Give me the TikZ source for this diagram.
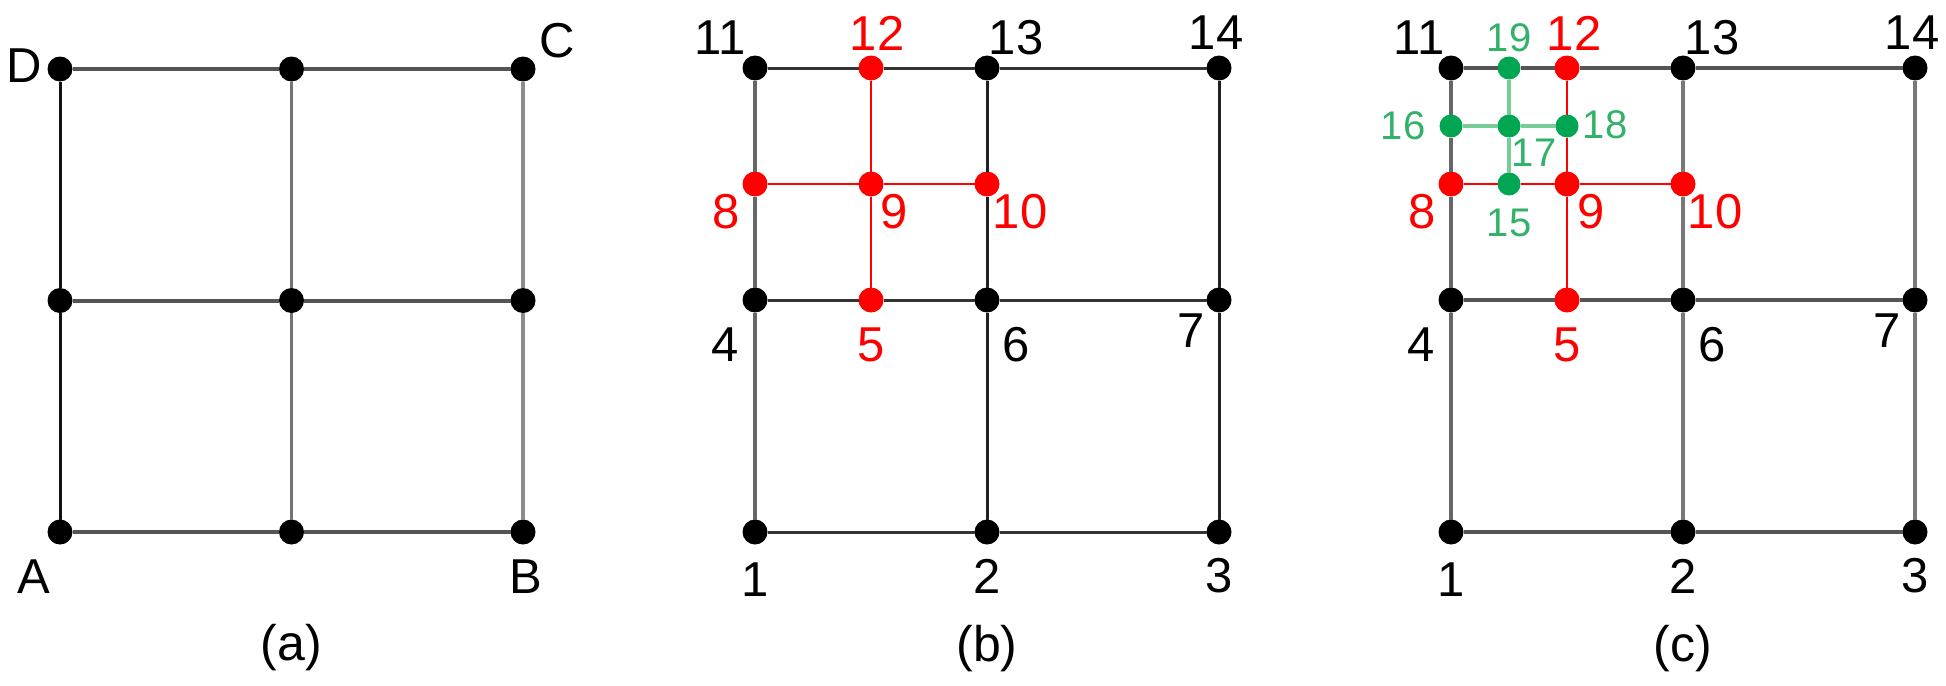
\documentclass[tikz,border=0pt]{standalone}
\usepackage{fontspec}
\setmainfont{Liberation Sans}
\definecolor{rd}{RGB}{255,0,0}
\definecolor{gdot}{RGB}{0,166,81}
\definecolor{gtxt}{RGB}{50,178,105}
\definecolor{gline}{RGB}{120,205,150}
\begin{document}
\begin{tikzpicture}[x=0.5pt,y=-0.5pt,
  dot/.style={circle,fill=black,draw=none,inner sep=0pt,outer sep=0pt,minimum size=12.5pt},
  rdot/.style={dot,fill=rd},
  gdotst/.style={dot,fill=gdot,minimum size=11.5pt},
  lab/.style={inner sep=0pt,font=\fontsize{24.5}{24.5}\selectfont},
  rlab/.style={lab,text=rd},
  glab/.style={inner sep=0pt,font=\fontsize{20}{20}\selectfont,text=gtxt},
  captxt/.style={inner sep=0pt,font=\fontsize{25}{25}\selectfont},
  hA/.style={draw=black!67,line width=2pt},
  vA1/.style={draw=black!93,line width=1.5pt},
  vA2/.style={draw=black!55,line width=1.75pt},
  vA3/.style={draw=black!45,line width=2pt},
  hB/.style={draw=black!80,line width=1.5pt},
  vB1/.style={draw=black!60,line width=1.75pt},
  vB2/.style={draw=black!87,line width=1.5pt},
  hC/.style={draw=black!67,line width=1.75pt},
  vC1/.style={draw=black!60,line width=1.75pt},
  vC2/.style={draw=black!53,line width=2pt},
  redl/.style={draw=rd,line width=1.3pt},
  grnl/.style={draw=gline,line width=2pt}]
\useasboundingbox (0,0) rectangle (1946,685);
% ---------------- panel (a)
\node[dot] (aA) at (60,532) {};
\node[dot] (aAB) at (291.5,532) {};
\node[dot] (aB) at (523,532) {};
\node[dot] (aML) at (60,300.5) {};
\node[dot] (aMM) at (291.5,300.5) {};
\node[dot] (aMR) at (523,300.5) {};
\node[dot] (aD) at (60,69) {};
\node[dot] (aDC) at (291.5,69) {};
\node[dot] (aC) at (523,69) {};
\draw[hA] (aA) -- (aAB) -- (aB);
\draw[hA] (aML) -- (aMM) -- (aMR);
\draw[hA] (aD) -- (aDC) -- (aC);
\draw[vA1] (aA) -- (aML) -- (aD);
\draw[vA2] (aAB) -- (aMM) -- (aDC);
\draw[vA3] (aB) -- (aMR) -- (aC);
\node[lab] (lD) at ([shift={(-36,-3)}]aD) {D};
\node[lab] (lC) at ([shift={(34,-28)}]aC) {C};
\node[lab] (lA) at ([shift={(-26,45)}]aA) {A};
\node[lab] (lB) at ([shift={(3,45)}]aB) {B};
\node[captxt] (capa) at (291.5,648) {(a)};
% ---------------- panel (b)
\node[dot] (b1) at (755,532) {};
\node[dot] (b2) at (987,532) {};
\node[dot] (b3) at (1219,532) {};
\node[dot] (b4) at (755,300) {};
\node[rdot] (b5) at (871,300) {};
\node[dot] (b6) at (987,300) {};
\node[dot] (b7) at (1219,300) {};
\node[rdot] (b8) at (755,184) {};
\node[rdot] (b9) at (871,184) {};
\node[rdot] (b10) at (987,184) {};
\node[dot] (b11) at (755,68) {};
\node[rdot] (b12) at (871,68) {};
\node[dot] (b13) at (987,68) {};
\node[dot] (b14) at (1219,68) {};
\draw[hB] (b1) -- (b2) -- (b3);
\draw[hB] (b4) -- (b5) -- (b6) -- (b7);
\draw[hB] (b11) -- (b12) -- (b13) -- (b14);
\draw[vB1] (b1) -- (b4) -- (b8) -- (b11);
\draw[vB2] (b2) -- (b6) -- (b10) -- (b13);
\draw[vB2] (b3) -- (b7) -- (b14);
\draw[redl] (b8) -- (b9) -- (b10);
\draw[redl] (b12) -- (b9) -- (b5);
\node[lab] (lb1) at ([shift={(0,48)}]b1) {1};
\node[lab] (lb2) at ([shift={(0,44)}]b2) {2};
\node[lab] (lb3) at ([shift={(0,44)}]b3) {3};
\node[lab] (lb4) at ([shift={(-30,45)}]b4) {4};
\node[rlab] (lb5) at ([shift={(0,45)}]b5) {5};
\node[lab] (lb6) at ([shift={(29,45)}]b6) {6};
\node[lab] (lb7) at ([shift={(-28,31)}]b7) {7};
\node[rlab] (lb8) at ([shift={(-29,28)}]b8) {8};
\node[rlab] (lb9) at ([shift={(23,28)}]b9) {9};
\node[rlab] (lb10) at ([shift={(33,28)}]b10) {10};
\node[lab] (lb11) at ([shift={(-35,-30)}]b11) {11};
\node[rlab] (lb12) at ([shift={(6,-35)}]b12) {12};
\node[lab] (lb13) at ([shift={(29,-30)}]b13) {13};
\node[lab] (lb14) at ([shift={(-3,-35)}]b14) {14};
\node[captxt] (capb) at (987,649) {(b)};
% ---------------- panel (c)
\node[dot] (c1) at (1451,532) {};
\node[dot] (c2) at (1683,532) {};
\node[dot] (c3) at (1915,532) {};
\node[dot] (c4) at (1451,300) {};
\node[rdot] (c5) at (1567,300) {};
\node[dot] (c6) at (1683,300) {};
\node[dot] (c7) at (1915,300) {};
\node[rdot] (c8) at (1451,184) {};
\node[rdot] (c9) at (1567,184) {};
\node[rdot] (c10) at (1683,184) {};
\node[dot] (c11) at (1451,68) {};
\node[rdot] (c12) at (1567,68) {};
\node[dot] (c13) at (1683,68) {};
\node[dot] (c14) at (1915,68) {};
\node[gdotst] (c15) at (1509,184) {};
\node[gdotst] (c16) at (1451,126) {};
\node[gdotst] (c17) at (1509,126) {};
\node[gdotst] (c18) at (1567,126) {};
\node[gdotst] (c19) at (1509,68) {};
\draw[hC] (c1) -- (c2) -- (c3);
\draw[hC] (c4) -- (c5) -- (c6) -- (c7);
\draw[hC] (c11) -- (c19) -- (c12) -- (c13) -- (c14);
\draw[vC1] (c1) -- (c4) -- (c8) -- (c16) -- (c11);
\draw[vC2] (c2) -- (c6) -- (c10) -- (c13);
\draw[vC2] (c3) -- (c7) -- (c14);
\draw[redl] (c8) -- (c15) -- (c9) -- (c10);
\draw[redl] (c12) -- (c18) -- (c9) -- (c5);
\draw[grnl] (c16) -- (c17) -- (c18);
\draw[grnl] (c19) -- (c17) -- (c15);
\node[lab] (lc1) at ([shift={(0,48)}]c1) {1};
\node[lab] (lc2) at ([shift={(0,44)}]c2) {2};
\node[lab] (lc3) at ([shift={(0,44)}]c3) {3};
\node[lab] (lc4) at ([shift={(-30,45)}]c4) {4};
\node[rlab] (lc5) at ([shift={(0,45)}]c5) {5};
\node[lab] (lc6) at ([shift={(29,45)}]c6) {6};
\node[lab] (lc7) at ([shift={(-28,31)}]c7) {7};
\node[rlab] (lc8) at ([shift={(-29,28)}]c8) {8};
\node[rlab] (lc9) at ([shift={(24,28)}]c9) {9};
\node[rlab] (lc10) at ([shift={(32,28)}]c10) {10};
\node[lab] (lc11) at ([shift={(-32,-30)}]c11) {11};
\node[rlab] (lc12) at ([shift={(7,-35)}]c12) {12};
\node[lab] (lc13) at ([shift={(29,-30)}]c13) {13};
\node[lab] (lc14) at ([shift={(-3,-35)}]c14) {14};
\node[glab] (lc15) at ([shift={(0,39)}]c15) {15};
\node[glab] (lc16) at ([shift={(-48,0)}]c16) {16};
\node[glab] (lc17) at ([shift={(25,27)}]c17) {17};
\node[glab] (lc18) at ([shift={(38,-1)}]c18) {18};
\node[glab] (lc19) at ([shift={(0,-30)}]c19) {19};
\node[captxt] (capc) at (1683,649) {(c)};
\end{tikzpicture}
\end{document}
